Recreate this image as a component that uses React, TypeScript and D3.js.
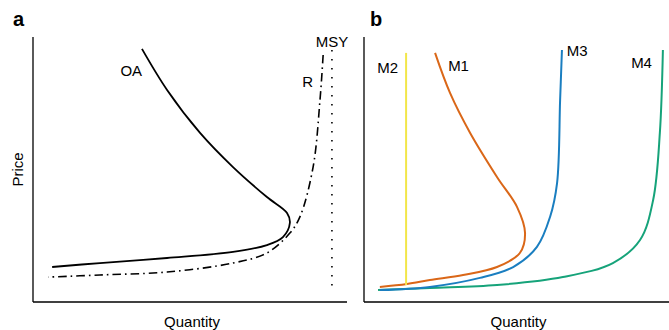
import * as d3 from "d3";

type Pt = [number, number]; // [quantity, price]

// panel a
const oaCurve: Pt[] = [
  [34.7, 95.5], [42.7, 80.0], [53.2, 63.8], [63.7, 50.9], [74.5, 39.6],
  [80.9, 33.6], [81.8, 29.8], [79.6, 24.5], [74.5, 21.5], [63.7, 18.9],
  [42.7, 16.6], [21.3, 14.7], [6.1, 13.2],
];
const rCurve: Pt[] = [
  [92.4, 93.2], [91.4, 76.2], [89.2, 50.9], [85.0, 32.1], [81.8, 26.0],
  [74.5, 18.5], [63.7, 14.7], [42.7, 11.3], [21.3, 10.2], [4.8, 9.4],
];
const msyLine: Pt[] = [[95.2, 95.1], [95.2, 4.5]];

// panel b
const m1Curve: Pt[] = [
  [23.3, 94.0], [28.2, 78.9], [34.8, 63.8], [43.6, 47.2], [50.2, 35.8],
  [52.8, 26.0], [51.1, 18.5], [43.6, 13.2], [32.5, 10.2], [21.6, 8.3],
  [14.1, 6.8], [5.2, 5.7],
];
const m2Line: Pt[] = [[13.8, 94.0], [13.8, 6.4]];
const m3Curve: Pt[] = [
  [64.9, 95.1], [64.3, 76.2], [63.3, 44.9], [61.0, 32.1], [56.7, 20.8],
  [48.9, 13.2], [38.0, 9.1], [21.6, 5.7], [5.2, 4.5],
];
const m4Curve: Pt[] = [
  [98.0, 95.1], [97.0, 63.8], [94.8, 38.5], [90.5, 23.4], [81.6, 14.7],
  [65.2, 9.4], [43.6, 6.4], [21.6, 5.3], [4.6, 4.5],
];

const font = "'Liberation Sans', Arial, Helvetica, sans-serif";
const top = 37;
const bottom = 302;
const fs = 15;

export default function App() {
  const xa = d3.scaleLinear().domain([0, 100]).range([33, 347]);
  const xb = d3.scaleLinear().domain([0, 100]).range([364, 669]);
  const y = d3.scaleLinear().domain([0, 100]).range([bottom, top]);

  const lineA = d3.line<Pt>().x((d) => xa(d[0])).y((d) => y(d[1])).curve(d3.curveCatmullRom.alpha(0.5));
  const lineB = d3.line<Pt>().x((d) => xb(d[0])).y((d) => y(d[1])).curve(d3.curveCatmullRom.alpha(0.5));
  const straightA = d3.line<Pt>().x((d) => xa(d[0])).y((d) => y(d[1]));
  const straightB = d3.line<Pt>().x((d) => xb(d[0])).y((d) => y(d[1]));

  return (
    <svg
      width={669}
      height={330}
      style={{ position: "absolute", left: 0, top: 0, background: "#fff" }}
      fontFamily={font}
    >
      {/* panel letters */}
      <text x={13} y={26} fontSize={20} fontWeight="bold">a</text>
      <text x={370} y={26} fontSize={20} fontWeight="bold">b</text>

      {/* panel a axes */}
      <line x1={xa(0)} x2={xa(0)} y1={top} y2={bottom} stroke="#000" strokeWidth={1.3} />
      <line x1={xa(0)} x2={xa(100)} y1={bottom} y2={bottom} stroke="#000" strokeWidth={1.3} />
      <text transform={`translate(23,${(top + bottom) / 2}) rotate(-90)`} textAnchor="middle" fontSize={fs}>Price</text>
      <text x={(xa(0) + xa(100)) / 2 + 2} y={327} textAnchor="middle" fontSize={fs}>Quantity</text>

      {/* panel a curves */}
      <path d={straightA(msyLine) ?? ""} fill="none" stroke="#000" strokeWidth={1.6} strokeDasharray="1.6,7.4" />
      <path d={lineA(rCurve) ?? ""} fill="none" stroke="#000" strokeWidth={1.6} strokeDasharray="8.5,4,1.6,4" />
      <path d={lineA(oaCurve) ?? ""} fill="none" stroke="#000" strokeWidth={1.8} />
      <text x={xa(31.3)} y={y(85.3)} textAnchor="middle" fontSize={fs}>OA</text>
      <text x={xa(87.5)} y={y(81.3)} textAnchor="middle" fontSize={fs}>R</text>
      <text x={xa(95.2)} y={y(96.3)} textAnchor="middle" fontSize={fs}>MSY</text>

      {/* panel b axes */}
      <line x1={xb(0)} x2={xb(0)} y1={top} y2={bottom} stroke="#000" strokeWidth={1.3} />
      <line x1={xb(0)} x2={xb(100)} y1={bottom} y2={bottom} stroke="#000" strokeWidth={1.3} />
      <text x={(xb(0) + xb(100)) / 2 + 2} y={327} textAnchor="middle" fontSize={fs}>Quantity</text>

      {/* panel b curves */}
      <path d={lineB(m4Curve) ?? ""} fill="none" stroke="#16a37a" strokeWidth={2} />
      <path d={lineB(m3Curve) ?? ""} fill="none" stroke="#1a7ec0" strokeWidth={2} />
      <path d={lineB(m1Curve) ?? ""} fill="none" stroke="#da6718" strokeWidth={2} />
      <path d={straightB(m2Line) ?? ""} fill="none" stroke="#f2e64a" strokeWidth={2} />
      <text x={xb(7.8)} y={y(86.3)} textAnchor="middle" fontSize={fs}>M2</text>
      <text x={xb(31)} y={y(87.3)} textAnchor="middle" fontSize={fs}>M1</text>
      <text x={xb(66.5)} y={y(92.8)} fontSize={fs}>M3</text>
      <text x={xb(91)} y={y(88.3)} textAnchor="middle" fontSize={fs}>M4</text>
    </svg>
  );
}
